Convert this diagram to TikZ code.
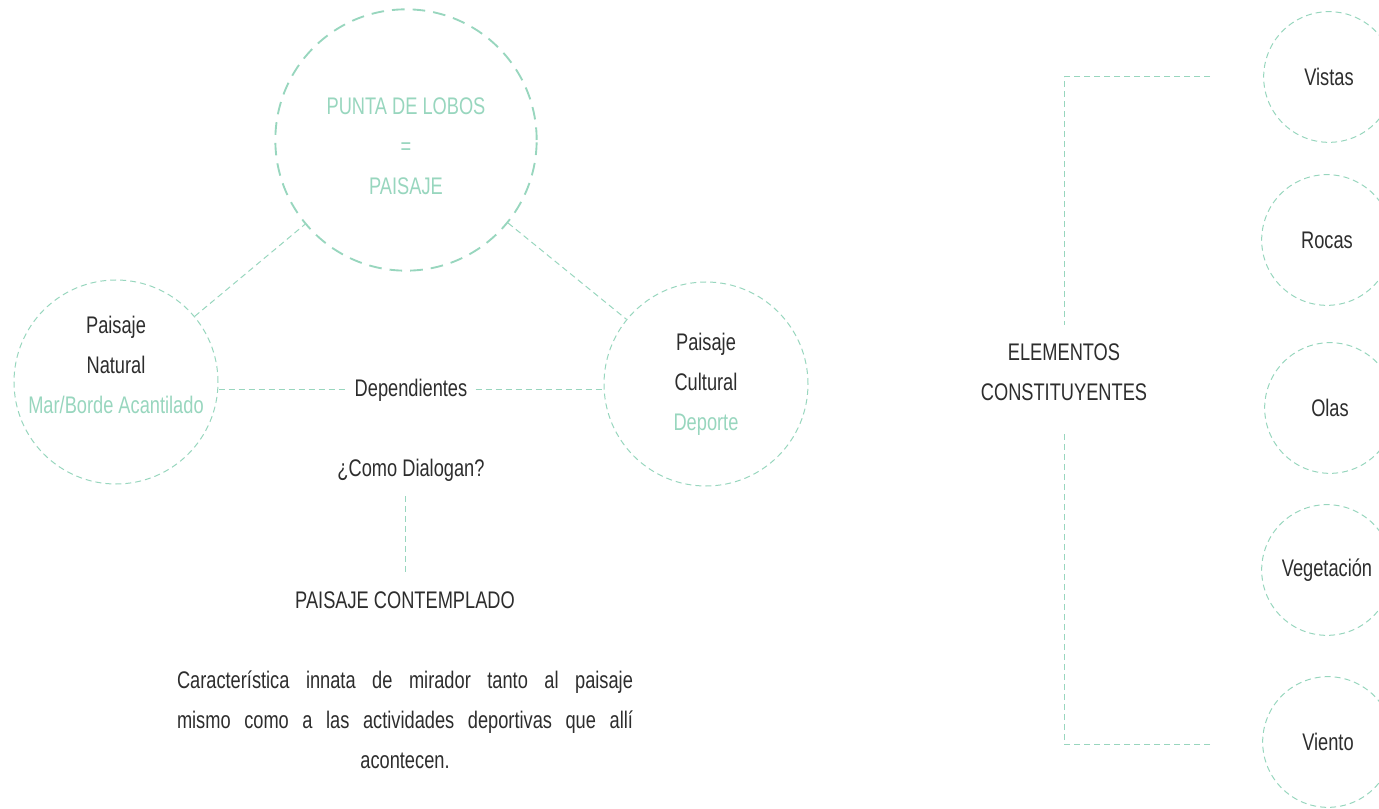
\documentclass[tikz,border=0pt]{standalone}
\usepackage{fontspec}
\setmainfont{Liberation Sans}[FakeStretch=0.76]
\usetikzlibrary{positioning}
\definecolor{mint}{RGB}{152,214,190}
\definecolor{ink}{RGB}{45,45,45}
\tikzset{
  txt/.style={font=\fontsize{18}{30}\selectfont, text=ink, align=center},
  bubble/.style={circle, draw=mint, line width=0.75pt, dash pattern=on 4.5pt off 3pt,
    minimum size=153pt, inner sep=0pt, txt},
  small bubble/.style={bubble, minimum size=98pt},
  big bubble/.style={bubble, line width=1.4pt, dash pattern=on 9.5pt off 6pt,
    minimum size=196pt, text=mint},
  link/.style={draw=mint, line width=0.75pt, dash pattern=on 4.5pt off 3pt},
}
\begin{document}
\begin{tikzpicture}[x=0.75pt,y=-0.75pt]
  \useasboundingbox (0,0) rectangle (1379,809);
  \clip (0,0) rectangle (1379,809);

  % paisaje
  \node[big bubble] (lobos) at (406,140) {};
  \node[txt, text=mint] (lobostxt) at (406,146) {PUNTA DE LOBOS\\=\\PAISAJE};
  \node[bubble] (natural) at (116,382) {};
  \node[txt] (naturaltxt) at (116,365) {Paisaje\\Natural\\\textcolor{mint}{Mar/Borde Acantilado}};
  \node[bubble] (cultural) at (706,384) {Paisaje\\Cultural\\\textcolor{mint}{Deporte}};
  \node[txt, inner xsep=6pt] (dependientes) at (411,390) {Dependientes};
  \node[txt, inner ysep=11pt] (dialogan) at (411,470) {¿Como Dialogan?};
  \node[txt, inner ysep=12pt] (contemplado) at (405,600) {PAISAJE CONTEMPLADO};
  \node[txt, text width=342pt, align=justify] (mirador) at (405,720)
    {{\parfillskip=0pt Característica innata de mirador tanto al paisaje\linebreak
     mismo como a las actividades deportivas que allí\par}
     {\centering acontecen.\par}};

  % elementos
  \node[txt, inner ysep=17pt] (elementos) at (1064,372) {ELEMENTOS\\CONSTITUYENTES};
  \coordinate (bracket top) at (1210,77);
  \coordinate (bracket bottom) at (1210,744);
  \node[small bubble] (vistas) at (1329,77) {Vistas};
  \node[small bubble] (rocas) at (1327,240) {Rocas};
  \node[small bubble] (olas) at (1330,408) {Olas};
  \node[small bubble] (vegetacion) at (1327,570) {Vegetación};
  \node[small bubble] (viento) at (1328,742) {Viento};

  \path[link]
    (natural) edge (lobos)
    (lobos) edge (cultural)
    (dependientes -| natural.east) edge (dependientes)
    (dependientes) edge (dependientes -| cultural.west)
    (contemplado.north |- dialogan.south) edge (contemplado.north);
  \draw[link] (bracket top) -| ([yshift=-3pt]elementos.north);
  \draw[link] (bracket bottom) -| ([yshift=-7.5pt]elementos.south);
\end{tikzpicture}
\end{document}
